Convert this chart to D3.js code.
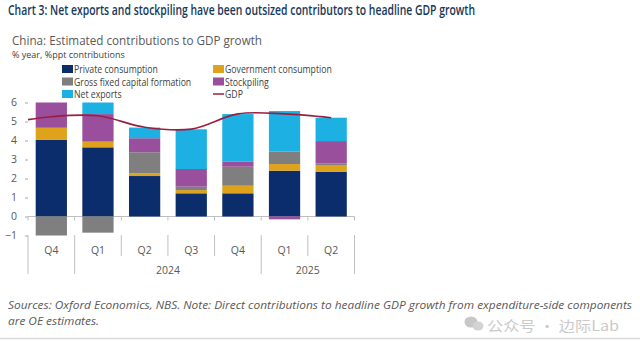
<!DOCTYPE html>
<html><head><meta charset="utf-8">
<script src="https://cdn.jsdelivr.net/npm/d3@7"></script>
<style>
html,body{margin:0;padding:0;background:#fff;}
svg{display:block;}
</style></head>
<body>
<script>
// ---- data ----
const quarters = ["Q4","Q1","Q2","Q3","Q4","Q1","Q2"];
const years = [{label:"", from:0, to:0},{label:"2024", from:1, to:4},{label:"2025", from:5, to:6}];
const privateConsumption = [4.03, 3.64, 2.13, 1.22, 1.22, 2.41, 2.36];
const governmentConsumption = [0.64, 0.30, 0.14, 0.17, 0.40, 0.35, 0.35];
const grossFixedCapital = [-1.00, -0.85, 1.11, 0.18, 1.00, 0.65, 0.09];
const stockpiling = [1.45, 1.45, 0.74, 0.93, 0.26, -0.15, 1.17];
const netExports = [0.10, 0.76, 0.56, 2.09, 2.51, 2.14, 1.23];
const gdpPrior = 4.9; // Q3 2023, off the left edge
const gdp = [5.25, 5.3, 4.7, 4.6, 5.4, 5.4, 5.2];
const yTicks = [-1,0,1,2,3,4,5,6];

const seriesNames = ["Private consumption","Government consumption","Gross fixed capital formation","Stockpiling","Net exports"];
const seriesKeys = ["pc","gc","gf","st","ne"];
const colors = {pc:"#0b2d6c", gc:"#dea21c", gf:"#7f7f7f", st:"#9a4f9c", ne:"#1db0e2"};
const gdpColor = "#9b1f3d";

const W = 640, H = 341;
const svg = d3.select("body").append("svg").attr("width", W).attr("height", H);

function fit(sel, w){
  const n = sel.node();
  const len = n.getComputedTextLength();
  if (Math.abs(len - w) > 2) sel.attr("textLength", w).attr("lengthAdjust","spacingAndGlyphs");
}
function condense(sel, k){
  const len = sel.node().getComputedTextLength();
  sel.attr("textLength", len*k).attr("lengthAdjust","spacingAndGlyphs");
}

// ---- titles ----
const t1 = svg.append("text").attr("x", 8).attr("y", 15)
  .attr("font-family","Open Sans").attr("font-weight", 600).attr("font-size", 13.5)
  .attr("fill","#17375a")
  .text("Chart 3: Net exports and stockpiling have been outsized contributors to headline GDP growth");
fit(t1, 467);
const t2 = svg.append("text").attr("x", 12).attr("y", 45)
  .attr("font-family","Open Sans").attr("font-size", 13.5).attr("fill","#595959")
  .text("China: Estimated contributions to GDP growth");
fit(t2, 250);
const t3 = svg.append("text").attr("x", 12).attr("y", 58)
  .attr("font-family","Open Sans").attr("font-size", 9).attr("fill","#404040")
  .text("% year, %ppt contributions");
fit(t3, 111);

// ---- legend ----
const legendItems = [
  {key:"pc", x:62, y:69}, {key:"gc", x:213, y:69},
  {key:"gf", x:62, y:81.5}, {key:"st", x:213, y:81.5},
  {key:"ne", x:62, y:94}, {key:"gdp", x:213, y:94}
];
legendItems.forEach(it => {
  const g = svg.append("g");
  if (it.key === "gdp") {
    g.append("line").attr("x1", it.x).attr("x2", it.x+11).attr("y1", it.y).attr("y2", it.y)
      .attr("stroke", gdpColor).attr("stroke-width", 1.5);
  } else {
    g.append("rect").attr("x", it.x).attr("y", it.y-4).attr("width", 11).attr("height", 8)
      .attr("fill", colors[it.key]);
  }
  const lbl = it.key === "gdp" ? "GDP" : seriesNames[seriesKeys.indexOf(it.key)];
  const tx = g.append("text").attr("x", it.x+12).attr("y", it.y+4)
    .attr("font-family","Open Sans").attr("font-size", 10).attr("fill","#404040").text(lbl);
  condense(tx, 0.87);
});

// ---- scales ----
const x = d3.scaleBand().domain(d3.range(quarters.length)).range([28, 354.5])
  .paddingInner(0.33).paddingOuter(0.165);
const y = d3.scaleLinear().domain([-1, 6]).range([235.5, 102.5]);

// y axis
const yAxis = svg.append("g").attr("transform","translate(28,0)")
  .call(d3.axisLeft(y).tickValues(yTicks).tickSize(3).tickPadding(8).tickFormat(d3.format("d")));
yAxis.select(".domain").remove();
yAxis.selectAll(".tick line").attr("stroke","#a6a6a6");
yAxis.selectAll("text").attr("font-family","Open Sans").attr("font-size", 10.5).attr("fill","#595959");

// zero line
svg.append("line").attr("x1", 28).attr("x2", 354.5).attr("y1", y(0)).attr("y2", y(0))
  .attr("stroke","#bfbfbf").attr("stroke-width", 1);
// small ticks at band boundaries
const bounds = d3.range(quarters.length+1).map(i => 28 + i*x.step());
svg.selectAll(".zt").data(bounds).enter().append("line")
  .attr("x1", d=>d).attr("x2", d=>d).attr("y1", y(0)).attr("y2", y(0)+4)
  .attr("stroke","#bfbfbf");

// ---- stacked bars ----
const rows = quarters.map((q,i)=>({pc:privateConsumption[i], gc:governmentConsumption[i], gf:grossFixedCapital[i], st:stockpiling[i], ne:netExports[i]}));
const stack = d3.stack().keys(seriesKeys).offset(d3.stackOffsetDiverging);
const stacked = stack(rows);

svg.append("clipPath").attr("id","plotclip").append("rect")
  .attr("x", 20).attr("y", y(6)).attr("width", 345).attr("height", y(-1.05)-y(6));

const barsG = svg.append("g").attr("clip-path","url(#plotclip)");
stacked.forEach(s => {
  barsG.selectAll(null).data(s).enter().append("rect")
    .attr("x", (d,i)=>x(i)).attr("width", x.bandwidth())
    .attr("y", d=>y(Math.max(d[0],d[1])))
    .attr("height", d=>Math.abs(y(d[0])-y(d[1])))
    .attr("fill", colors[s.key]);
});

// ---- GDP line ----
const gdpPts = [[x(0)+x.bandwidth()/2 - x.step(), gdpPrior]].concat(gdp.map((v,i)=>[x(i)+x.bandwidth()/2, v]));
svg.append("clipPath").attr("id","lineclip").append("rect")
  .attr("x", 28).attr("y", 90).attr("width", 330).attr("height", 150);
svg.append("path").attr("clip-path","url(#lineclip)")
  .attr("d", d3.line().x(d=>d[0]).y(d=>y(d[1])).curve(d3.curveCatmullRom.alpha(0.5))(gdpPts))
  .attr("fill","none").attr("stroke", gdpColor).attr("stroke-width", 1.6);

// ---- category axis ----
const catG = svg.append("g");
bounds.forEach((b,i) => {
  const long = (i===0 || i===1 || i===5 || i===7);
  catG.append("line").attr("x1", b).attr("x2", b).attr("y1", 235).attr("y2", long ? 274 : 256)
    .attr("stroke","#bfbfbf");
});
quarters.forEach((q,i) => {
  catG.append("text").attr("x", x(i)+x.bandwidth()/2).attr("y", 254).attr("text-anchor","middle")
    .attr("font-family","Open Sans").attr("font-size", 10.5).attr("fill","#595959").text(q);
});
years.filter(d=>d.label).forEach(d => {
  const cx = (bounds[d.from] + bounds[d.to+1]) / 2;
  catG.append("text").attr("x", cx).attr("y", 274).attr("text-anchor","middle")
    .attr("font-family","Open Sans").attr("font-size", 10.5).attr("fill","#595959").text(d.label);
});

// ---- footer ----
const f1 = svg.append("text").attr("x", 8).attr("y", 309)
  .attr("font-family","Open Sans").attr("font-style","italic").attr("font-size", 11).attr("fill","#595959")
  .text("Sources: Oxford Economics, NBS. Note: Direct contributions to headline GDP growth from expenditure-side components");
fit(f1, 624);
const f2 = svg.append("text").attr("x", 8).attr("y", 325)
  .attr("font-family","Open Sans").attr("font-style","italic").attr("font-size", 11).attr("fill","#595959")
  .text("are OE estimates.");
fit(f2, 91);

// watermark
const wm = svg.append("g").attr("opacity", 0.55);
wm.append("ellipse").attr("cx", 471).attr("cy", 322).attr("rx", 6.5).attr("ry", 5.5).attr("fill","#9a9a9a");
wm.append("ellipse").attr("cx", 478).attr("cy", 326).attr("rx", 5.5).attr("ry", 4.5).attr("fill","#b0b0b0");
const wt = wm.append("text").attr("x", 487).attr("y", 331)
  .attr("font-family","Noto Sans CJK SC").attr("font-size", 14).attr("fill","#a0a0a0")
  .text("公众号 · 边际Lab");
fit(wt, 132);

// bottom rule
svg.append("line").attr("x1", 0).attr("x2", W).attr("y1", 338.5).attr("y2", 338.5)
  .attr("stroke","#d9d9d9").attr("stroke-width", 1.5);
</script>
</body></html>
